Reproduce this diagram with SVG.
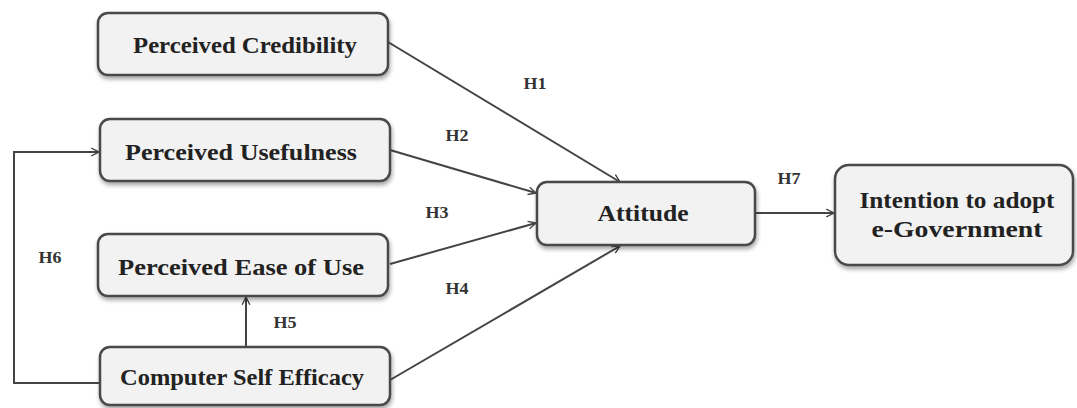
<svg xmlns="http://www.w3.org/2000/svg" width="1077" height="408" viewBox="0 0 1077 408">
<style>
.box{fill:#f2f2f2;stroke:#4a4a4a;stroke-width:2.5;filter:url(#sh)}
.t{font-family:"Liberation Serif","Times New Roman",serif;font-size:23px;fill:#222;text-anchor:middle;font-weight:bold}
.lb{font-family:"Liberation Serif","Times New Roman",serif;font-size:16px;fill:#333;text-anchor:middle;font-weight:bold}
.c{stroke:#444;stroke-width:2;fill:none;marker-end:url(#ah)}
</style>
<defs>
<filter id="sh" x="-10%" y="-20%" width="120%" height="150%">
<feDropShadow dx="1" dy="3" stdDeviation="2" flood-color="#000" flood-opacity="0.35"/>
</filter>
<marker id="ah" viewBox="0 0 20 20" refX="18" refY="10" markerWidth="11" markerHeight="11" markerUnits="userSpaceOnUse" orient="auto">
<path d="M4,3 L18,10 L4,17" fill="none" stroke="#444" stroke-width="2.5"/>
</marker>
</defs>
<g id="connectors">
<line class="c" x1="388" y1="42" x2="620" y2="182"/>
<line class="c" x1="390" y1="150" x2="536" y2="193"/>
<line class="c" x1="390" y1="264" x2="536" y2="223"/>
<line class="c" x1="390" y1="380" x2="620" y2="246"/>
<line class="c" x1="755" y1="213" x2="834" y2="213"/>
<line class="c" x1="246" y1="347" x2="246" y2="297"/>
<polyline class="c" points="100,383 14,383 14,152 99,152"/>
<text class="lb" x="535" y="89" textLength="23" lengthAdjust="spacingAndGlyphs">H1</text>
<text class="lb" x="457" y="141" textLength="23" lengthAdjust="spacingAndGlyphs">H2</text>
<text class="lb" x="437" y="218" textLength="23" lengthAdjust="spacingAndGlyphs">H3</text>
<text class="lb" x="457" y="294" textLength="23" lengthAdjust="spacingAndGlyphs">H4</text>
<text class="lb" x="285" y="328" textLength="23" lengthAdjust="spacingAndGlyphs">H5</text>
<text class="lb" x="50" y="263" textLength="23" lengthAdjust="spacingAndGlyphs">H6</text>
<text class="lb" x="789" y="184" textLength="23" lengthAdjust="spacingAndGlyphs">H7</text>
</g>
<g id="credibility"><rect class="box" x="98" y="13" width="290" height="62" rx="10"/><text class="t" x="245" y="53" textLength="224" lengthAdjust="spacingAndGlyphs">Perceived Credibility</text></g>
<g id="usefulness"><rect class="box" x="100" y="119" width="290" height="62" rx="10"/><text class="t" x="241" y="160" textLength="232" lengthAdjust="spacingAndGlyphs">Perceived Usefulness</text></g>
<g id="ease"><rect class="box" x="98" y="234" width="290" height="62" rx="10"/><text class="t" x="241" y="275" textLength="246" lengthAdjust="spacingAndGlyphs">Perceived Ease of Use</text></g>
<g id="selfefficacy"><rect class="box" x="100" y="347" width="290" height="58" rx="10"/><text class="t" x="242" y="385" textLength="244" lengthAdjust="spacingAndGlyphs">Computer Self Efficacy</text></g>
<g id="attitude"><rect class="box" x="537" y="182" width="218" height="63" rx="10"/><text class="t" x="643" y="221" textLength="91" lengthAdjust="spacingAndGlyphs">Attitude</text></g>
<g id="intention"><rect class="box" x="835" y="165" width="238" height="100" rx="14"/><text class="t" x="957" y="208" textLength="195" lengthAdjust="spacingAndGlyphs">Intention to adopt</text><text class="t" x="957" y="237" textLength="171" lengthAdjust="spacingAndGlyphs">e-Government</text></g>
</svg>
